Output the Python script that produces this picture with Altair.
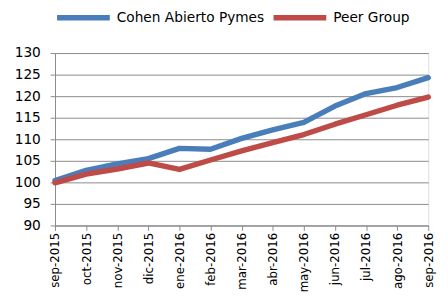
import altair as alt
import pandas as pd

months = ["sep-2015", "oct-2015", "nov-2015", "dic-2015", "ene-2016", "feb-2016",
          "mar-2016", "abr-2016", "may-2016", "jun-2016", "jul-2016", "ago-2016", "sep-2016"]
cohen = [100.4, 102.8, 104.3, 105.5, 107.9, 107.7, 110.2, 112.2, 113.9, 117.7, 120.6, 122.0, 124.3]
peer = [99.9, 101.9, 103.1, 104.5, 103.0, 105.2, 107.3, 109.2, 111.1, 113.5, 115.7, 117.9, 119.8]
series = ["Cohen Abierto Pymes", "Peer Group"]
colors = ["#4a7ebb", "#be4b48"]

rows = []
for i, m in enumerate(months):
    rows.append({"mes": m, "idx": i, "serie": series[0], "valor": cohen[i]})
    rows.append({"mes": m, "idx": i, "serie": series[1], "valor": peer[i]})
df = pd.DataFrame(rows)

gray = "#8a8a8a"
font = "DejaVu Sans"

chart = alt.Chart(df).mark_line(strokeWidth=5.5, strokeCap="round", strokeJoin="round").encode(
    x=alt.X("mes:N", sort=months, title=None,
            scale=alt.Scale(type="point", padding=0),
            axis=alt.Axis(labelAngle=-90, labelFontSize=12, labelFont=font, labelColor="#000",
                          tickColor=gray, tickSize=5, domainColor=gray, labelPadding=2,
                          grid=False, labelAlign="right", labelBaseline="middle")),
    y=alt.Y("valor:Q", title=None,
            scale=alt.Scale(domain=[90, 130], nice=False, zero=False),
            axis=alt.Axis(values=list(range(90, 131, 5)), labelFontSize=14, labelFont=font,
                          labelColor="#000", tickColor=gray, tickSize=5, domainColor=gray,
                          gridColor=gray, gridWidth=1, gridOpacity=1, labelPadding=10)),
    color=alt.Color("serie:N", sort=series,
                    scale=alt.Scale(domain=series, range=colors),
                    legend=alt.Legend(title=None, orient="none", legendX=-1, legendY=-66,
                                      direction="horizontal", symbolType="stroke",
                                      symbolSize=2900, symbolStrokeWidth=5.5,
                                      labelFontSize=14, labelFont=font, labelColor="#000",
                                      columnPadding=-2, labelOffset=4, gridAlign="none",
                                      labelLimit=300)),
    detail="serie:N",
).properties(
    width=381, height=176,
    autosize=alt.AutoSizeParams(type="none"),
    padding={"left": 48, "top": 43, "right": 12, "bottom": 70},
).configure_view(stroke=None).configure(background="white")

chart.save("out.html", embed_options={"renderer": "svg", "actions": False})
